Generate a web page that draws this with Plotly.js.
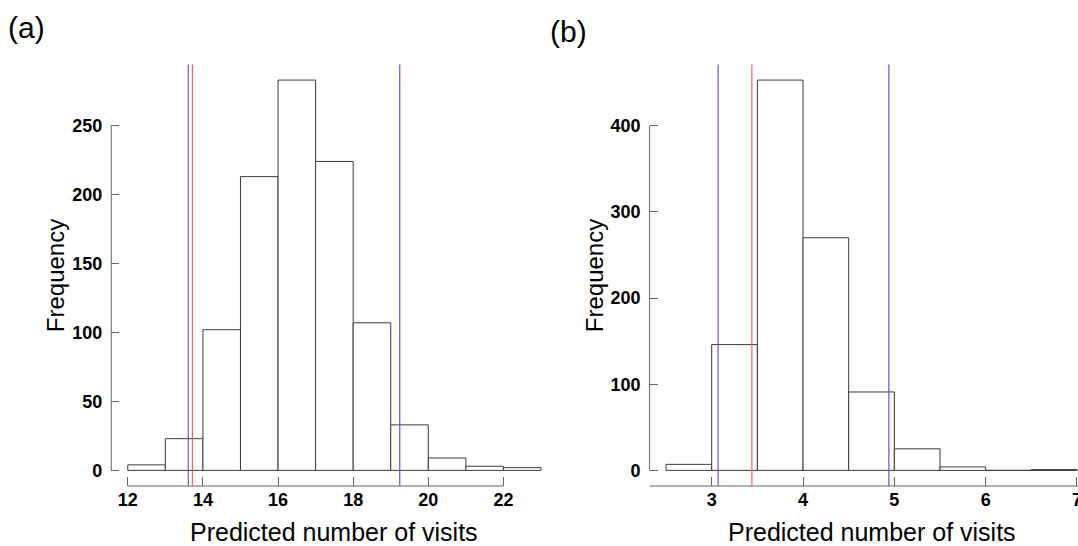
<!DOCTYPE html>
<html>
<head>
<meta charset="utf-8">
<script src="https://cdn.plot.ly/plotly-3.0.1.min.js"></script>
<style>
  html, body { margin: 0; padding: 0; background: #ffffff; }
  #chart { width: 1078px; height: 546px; }
</style>
</head>
<body>
<div id="chart"></div>
<script>
// Panel (a): histogram of predicted visits, bins of width 1
const binStartA = [12, 13, 14, 15, 16, 17, 18, 19, 20, 21, 22];
const countsA = [4, 23, 102, 213, 283, 224, 107, 33, 9, 3, 2];
const binWidthA = 1;
const xTicksA = [12, 14, 16, 18, 20, 22];
const yTicksA = [0, 50, 100, 150, 200, 250];
const blueLinesA = [13.61, 19.24];
const redLinesA = [13.72];

// Panel (b): histogram of predicted visits, bins of width 0.5
const binStartB = [2.5, 3, 3.5, 4, 4.5, 5, 5.5, 6, 6.5];
const countsB = [7, 146, 453, 270, 91, 25, 4, 0, 1];
const binWidthB = 0.5;
const xTicksB = [3, 4, 5, 6, 7];
const yTicksB = [0, 100, 200, 300, 400];
const blueLinesB = [3.07, 4.94];
const redLinesB = [3.44];

const panelLabels = ['(a)', '(b)'];
const xTitle = 'Predicted number of visits';
const yTitle = 'Frequency';

const FONT = 'Liberation Sans, Arial, Helvetica, sans-serif';
const AXIS_GREY = '#666666';
const BAR_EDGE = '#3a3a3a';
const BLUE = '#5a5ad2';
const RED = '#ff5c5c';

// plot region of each half (paper fraction); the right one runs past the page edge
const xDomA = [0.1032, 0.5172];
const xDomB = [0.6026, 1.0143];
const yDom = [0.1099, 0.8819];

function padded(lo, hi) {
  const p = 0.04 * (hi - lo);
  return [lo - p, hi + p];
}

const xRangeA = padded(binStartA[0], binStartA[binStartA.length - 1] + binWidthA);
const yRangeA = padded(0, Math.max(...countsA));
const xFullB = padded(binStartB[0], binStartB[binStartB.length - 1] + binWidthB);
const yRangeB = padded(0, Math.max(...countsB));
// only the part of panel (b) left of the page edge is shown
const visFrac = (1 - xDomB[0]) / (xDomB[1] - xDomB[0]);
const xRangeB = [xFullB[0], xFullB[0] + (xFullB[1] - xFullB[0]) * visFrac];

function barTrace(starts, counts, w, xa, ya) {
  return {
    type: 'bar',
    x: starts.map(s => s + w / 2),
    y: counts,
    width: starts.map(() => w),
    marker: { color: '#ffffff', line: { color: BAR_EDGE, width: 1 } },
    xaxis: xa, yaxis: ya,
    hoverinfo: 'skip',
    showlegend: false
  };
}

const data = [
  barTrace(binStartA, countsA, binWidthA, 'x', 'y'),
  barTrace(binStartB, countsB, binWidthB, 'x2', 'y2')
];

function vlines(vals, color, xr, yr) {
  return vals.map(v => ({
    type: 'line', xref: xr, yref: yr + ' domain',
    x0: v, x1: v, y0: 0, y1: 1,
    line: { color: color, width: 1.2 }, layer: 'above'
  }));
}

const shapes = [
  // axis lines spanning the tick range
  { type: 'line', xref: 'x', yref: 'y domain', x0: xTicksA[0], x1: xTicksA[xTicksA.length - 1], y0: 0, y1: 0,
    line: { color: AXIS_GREY, width: 1 } },
  { type: 'line', xref: 'x domain', yref: 'y', x0: 0, x1: 0, y0: yTicksA[0], y1: yTicksA[yTicksA.length - 1],
    line: { color: AXIS_GREY, width: 1 } },
  { type: 'line', xref: 'x2 domain', yref: 'y2 domain', x0: 0, x1: 1, y0: 0, y1: 0,
    line: { color: AXIS_GREY, width: 1 } },
  { type: 'line', xref: 'x2 domain', yref: 'y2', x0: 0, x1: 0, y0: yTicksB[0], y1: yTicksB[yTicksB.length - 1],
    line: { color: AXIS_GREY, width: 1 } }
].concat(
  vlines(blueLinesA, BLUE, 'x', 'y'),
  vlines(redLinesA, RED, 'x', 'y'),
  vlines(blueLinesB, BLUE, 'x2', 'y2'),
  vlines(redLinesB, RED, 'x2', 'y2')
);

const tickFont = { family: FONT, size: 18, color: '#000000', weight: 'bold' };

function xAxis(dom, range, ticks, anchor) {
  return {
    domain: dom, range: range, anchor: anchor,
    tickmode: 'array', tickvals: ticks,
    ticks: 'inside', ticklen: 9, tickwidth: 1, tickcolor: AXIS_GREY,
    ticklabelstandoff: 1, ticklabeloverflow: 'allow',
    tickfont: tickFont,
    showline: false, showgrid: false, zeroline: false, fixedrange: true
  };
}
function yAxis(range, ticks, anchor) {
  return {
    domain: yDom, range: range, anchor: anchor,
    tickmode: 'array', tickvals: ticks,
    ticks: 'inside', ticklen: 8, tickwidth: 1, tickcolor: AXIS_GREY,
    ticklabelstandoff: 8,
    tickfont: tickFont,
    showline: false, showgrid: false, zeroline: false, fixedrange: true
  };
}

const titleFont = { family: FONT, size: 25, color: '#000000' };
const annotations = [
  { text: panelLabels[0], xref: 'paper', yref: 'paper', x: 0.025, y: 0.949,
    xanchor: 'center', yanchor: 'middle', showarrow: false, font: { family: FONT, size: 30, color: '#000' } },
  { text: panelLabels[1], xref: 'paper', yref: 'paper', x: 0.527, y: 0.943,
    xanchor: 'center', yanchor: 'middle', showarrow: false, font: { family: FONT, size: 30, color: '#000' } },
  { text: xTitle, xref: 'x domain', yref: 'paper', x: 0.5, y: -0.004,
    xanchor: 'center', yanchor: 'bottom', showarrow: false, font: titleFont },
  { text: xTitle, xref: 'x2', yref: 'paper', x: (xFullB[0] + xFullB[1]) / 2, y: -0.004,
    xanchor: 'center', yanchor: 'bottom', showarrow: false, font: titleFont },
  { text: yTitle, xref: 'paper', yref: 'y domain', x: 0.051, y: 0.5, textangle: -90,
    xanchor: 'center', yanchor: 'middle', showarrow: false, font: { family: FONT, size: 24, color: '#000' } },
  { text: yTitle, xref: 'paper', yref: 'y2 domain', x: 0.551, y: 0.5, textangle: -90,
    xanchor: 'center', yanchor: 'middle', showarrow: false, font: { family: FONT, size: 24, color: '#000' } }
];

const layout = {
  width: 1078, height: 546,
  margin: { l: 0, r: 0, t: 0, b: 0, pad: 0 },
  paper_bgcolor: '#ffffff', plot_bgcolor: '#ffffff',
  bargap: 0, barmode: 'overlay',
  showlegend: false,
  xaxis: xAxis(xDomA, xRangeA, xTicksA, 'y'),
  yaxis: yAxis(yRangeA, yTicksA, 'x'),
  xaxis2: xAxis([xDomB[0], 1], xRangeB, xTicksB, 'y2'),
  yaxis2: yAxis(yRangeB, yTicksB, 'x2'),
  shapes: shapes,
  annotations: annotations
};

Plotly.newPlot('chart', data, layout, { displayModeBar: false, staticPlot: true });
</script>
</body>
</html>
